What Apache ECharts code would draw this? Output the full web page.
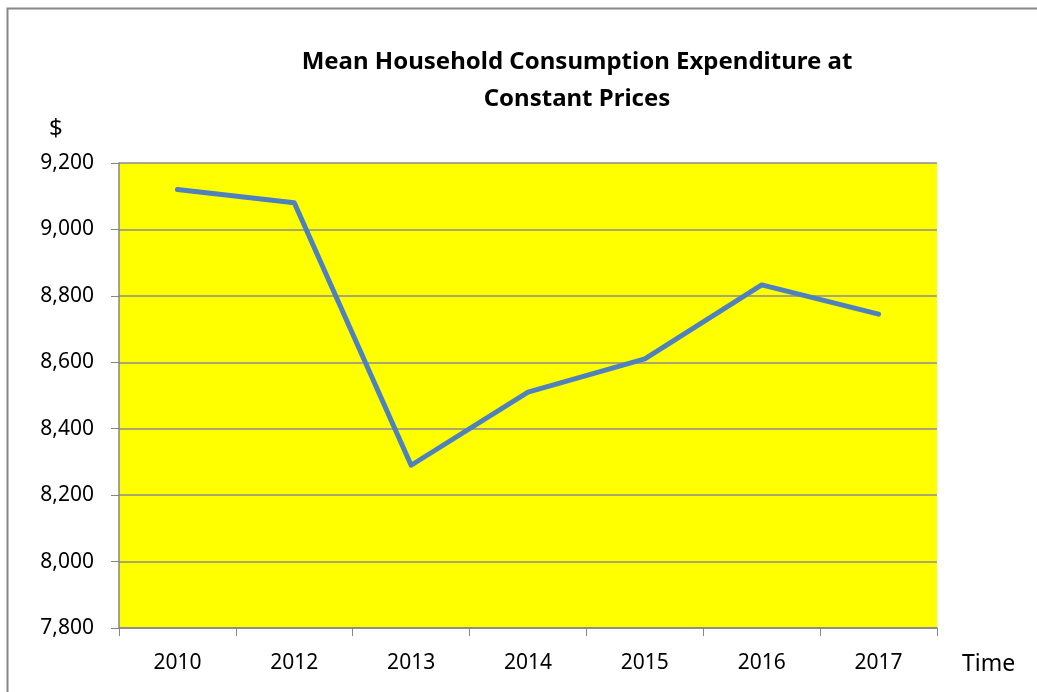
<!DOCTYPE html>
<html>
<head>
<meta charset="utf-8">
<script src="https://cdn.jsdelivr.net/npm/echarts@6/dist/echarts.min.js"></script>
<style>
  html, body { margin: 0; padding: 0; background: #fff; }
  #chart { width: 1037px; height: 692px; }
</style>
</head>
<body>
<div id="chart"></div>
<script>
var years = ['2010', '2012', '2013', '2014', '2015', '2016', '2017'];
var expenditure = [9120, 9080, 8290, 8510, 8610, 8833, 8745];
var yTicks = [7800, 8000, 8200, 8400, 8600, 8800, 9000, 9200];

var myChart = echarts.init(document.getElementById('chart'));

var font = '"Noto Sans", sans-serif';

var option = {
    backgroundColor: '#fff',
    animation: false,
    title: {
        text: 'Mean Household Consumption Expenditure at\nConstant Prices',
        left: 572,
        top: 39,
        textAlign: 'center',
        textStyle: {
            fontFamily: font,
            fontSize: 24,
            fontWeight: 'bold',
            color: '#000',
            lineHeight: 37
        }
    },
    graphic: [{
        type: 'rect',
        shape: { x: 7.5, y: 8.5, width: 1100, height: 800 },
        style: { fill: 'none', stroke: '#878787', lineWidth: 2 }
    }, {
        type: 'text',
        left: 49,
        top: 117,
        style: { text: '$', font: '24px ' + font, fill: '#000' }
    }, {
        type: 'text',
        left: 962,
        top: 653,
        style: { text: 'Time', font: '23px ' + font, fill: '#000' }
    }],
    grid: {
        left: 119,
        right: 100,
        top: 163,
        bottom: 64,
        show: true,
        backgroundColor: '#ffff00',
        borderWidth: 0
    },
    xAxis: {
        type: 'category',
        data: years,
        boundaryGap: true,
        axisLine: { lineStyle: { color: '#868686', width: 1.5 } },
        axisTick: { show: true, length: 8, inside: false, lineStyle: { color: '#868686' } },
        axisLabel: { color: '#000', fontSize: 21, fontFamily: font, margin: 25 },
        splitLine: { show: false }
    },
    yAxis: {
        type: 'value',
        min: yTicks[0],
        max: yTicks[yTicks.length - 1],
        interval: 200,
        axisLine: { show: true, lineStyle: { color: '#868686', width: 1.5 } },
        axisTick: { show: true, length: 8, lineStyle: { color: '#868686' } },
        axisLabel: {
            color: '#000',
            fontSize: 21,
            fontFamily: font,
            margin: 25,
            formatter: function (v) { return v.toLocaleString('en-US'); }
        },
        splitLine: { show: true, lineStyle: { color: '#8c8c8c', width: 1.5 } }
    },
    series: [{
        type: 'line',
        data: expenditure,
        symbol: 'none',
        lineStyle: { color: '#4f81bd', width: 5, cap: 'round', join: 'round' }
    }]
};

myChart.setOption(option);
</script>
</body>
</html>
